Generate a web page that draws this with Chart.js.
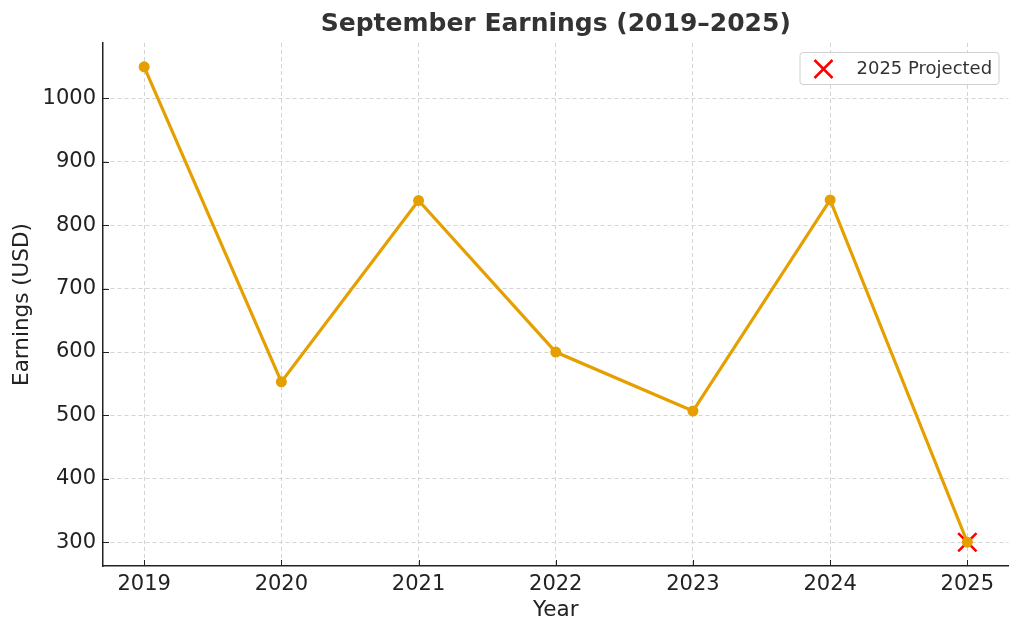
<!DOCTYPE html>
<html>
<head>
<meta charset="utf-8">
<script src="https://cdn.jsdelivr.net/npm/chart.js@4/dist/chart.umd.min.js"></script>
<style>
  html, body { margin: 0; padding: 0; background: #fff; overflow: hidden; }
  #wrap { width: 1024px; height: 635px; }
  canvas { display: block; }
</style>
</head>
<body>
<div id="wrap"><canvas id="chart" width="1024" height="635"></canvas></div>
<script>
const years = [2019, 2020, 2021, 2022, 2023, 2024, 2025];
const earnings = [1050, 553, 839, 600, 507, 840, 300];
const projectedYears = [2025];
const projectedValues = [300];
const yTicks = [300, 400, 500, 600, 700, 800, 900, 1000];

const FONT = "'DejaVu Sans', sans-serif";
const LINE_COLOR = '#E69F00';

// title centred on plot area, like matplotlib
const titlePlugin = {
  id: 'plotTitle',
  afterDraw(chart) {
    const { ctx, chartArea } = chart;
    ctx.save();
    ctx.font = `bold 25px ${FONT}`;
    ctx.fillStyle = '#333';
    ctx.textAlign = 'center';
    ctx.textBaseline = 'middle';
    ctx.fillText('September Earnings (2019–2025)', (chartArea.left + chartArea.right) / 2, 24);
    ctx.restore();
  }
};

// small inward tick marks
const tickPlugin = {
  id: 'innerTicks',
  afterDatasetsDraw(chart) {
    const { ctx, chartArea, scales } = chart;
    ctx.save();
    ctx.strokeStyle = '#222';
    ctx.lineWidth = 1;
    scales.x.ticks.forEach((t) => {
      const px = Math.round(scales.x.getPixelForValue(t.value)) + 0.5;
      ctx.beginPath();
      ctx.moveTo(px, chartArea.bottom);
      ctx.lineTo(px, chartArea.bottom - 6);
      ctx.stroke();
    });
    scales.y.ticks.forEach((t) => {
      const py = Math.round(scales.y.getPixelForValue(t.value)) + 0.5;
      ctx.beginPath();
      ctx.moveTo(chartArea.left, py);
      ctx.lineTo(chartArea.left + 6, py);
      ctx.stroke();
    });
    ctx.restore();
  }
};

// framed legend in upper right, only the projected marker
const legendPlugin = {
  id: 'boxLegend',
  afterDraw(chart) {
    const { ctx, chartArea } = chart;
    const w = 199, h = 32;
    const x = chartArea.right - 10 - w;
    const y = chartArea.top + 9;
    ctx.save();
    ctx.fillStyle = 'rgba(255,255,255,0.85)';
    ctx.strokeStyle = '#d0d0d0';
    ctx.lineWidth = 1;
    ctx.beginPath();
    ctx.roundRect(x + 0.5, y + 0.5, w, h, 3);
    ctx.fill();
    ctx.stroke();
    const ds = chart.data.datasets[1];
    ctx.strokeStyle = ds.borderColor;
    ctx.lineWidth = 2.5;
    ctx.beginPath();
    ctx.moveTo(x + 15, y + h / 2 - 8);
    ctx.lineTo(x + 33, y + h / 2 + 10);
    ctx.moveTo(x + 33, y + h / 2 - 8);
    ctx.lineTo(x + 15, y + h / 2 + 10);
    ctx.stroke();
    ctx.font = `18px ${FONT}`;
    ctx.fillStyle = '#333';
    ctx.textBaseline = 'middle';
    ctx.textAlign = 'left';
    ctx.fillText(ds.label, x + 57, y + h / 2 + 1);
    ctx.restore();
  }
};

new Chart(document.getElementById('chart'), {
  type: 'line',
  data: {
    datasets: [
      {
        label: 'Earnings',
        data: years.map((yr, i) => ({ x: yr, y: earnings[i] })),
        borderColor: LINE_COLOR,
        backgroundColor: LINE_COLOR,
        borderWidth: 3.2,
        pointRadius: 5.5,
        pointHoverRadius: 5.5,
        pointBorderWidth: 0,
        tension: 0
      },
      {
        label: '2025 Projected',
        type: 'scatter',
        data: projectedYears.map((yr, i) => ({ x: yr, y: projectedValues[i] })),
        borderColor: '#ff0000',
        backgroundColor: '#ff0000',
        pointStyle: 'crossRot',
        pointRadius: 13,
        pointBorderWidth: 2.5,
        showLine: false
      }
    ]
  },
  options: {
    responsive: false,
    animation: false,
    layout: { padding: { top: 43, right: 13, left: 10, bottom: 12 } },
    plugins: {
      legend: { display: false },
      title: { display: false },
      tooltip: { enabled: false }
    },
    scales: {
      x: {
        type: 'linear',
        min: 2018.7,
        max: 2025.3,
        afterFit(scale) {
          scale.height = 57;
          scale.paddingLeft = 0;
          scale.paddingRight = 0;
        },
        afterBuildTicks(scale) { scale.ticks = years.map((v) => ({ value: v })); },
        ticks: {
          includeBounds: false,
          stepSize: 1,
          padding: 6,
          color: '#222',
          font: { family: FONT, size: 21 },
          callback: (v) => String(v)
        },
        grid: { color: '#d4d4d4', lineWidth: 1, drawTicks: false },
        border: { display: true, color: '#222', width: 1.5, dash: [4, 3] },
        title: {
          display: true,
          text: 'Year',
          color: '#222',
          font: { family: FONT, size: 21.5 },
          padding: { top: 4, bottom: 0 }
        }
      },
      y: {
        min: 262.5,
        max: 1087.5,
        afterFit(scale) {
          scale.width = 93;
          scale.paddingTop = 0;
          scale.paddingBottom = 0;
        },
        afterBuildTicks(scale) { scale.ticks = yTicks.map((v) => ({ value: v })); },
        ticks: {
          includeBounds: false,
          stepSize: 100,
          padding: 7,
          color: '#222',
          font: { family: FONT, size: 21 },
          callback: (v) => String(v)
        },
        grid: { color: '#d4d4d4', lineWidth: 1, drawTicks: false },
        border: { display: true, color: '#222', width: 1.5, dash: [4, 3] },
        title: {
          display: true,
          text: 'Earnings (USD)',
          color: '#222',
          font: { family: FONT, size: 21.5 },
          padding: { top: 0, bottom: 4 }
        }
      }
    }
  },
  plugins: [titlePlugin, tickPlugin, legendPlugin]
});
</script>
</body>
</html>
